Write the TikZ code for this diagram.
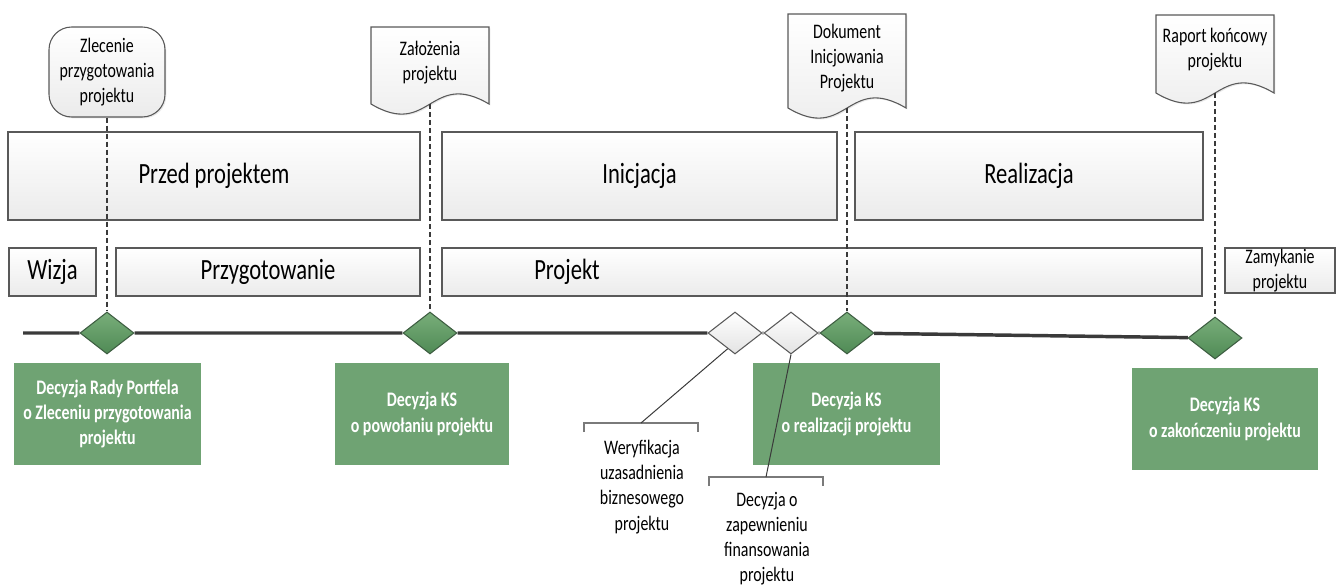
\documentclass[tikz,border=0pt]{standalone}
\usepackage{fontspec}
\setmainfont{Carlito}[FakeStretch=0.77]
\usetikzlibrary{shapes.geometric,shadows}
\definecolor{edge}{HTML}{595959}
\definecolor{boxbot}{HTML}{EBEBEB}
\definecolor{gtop}{HTML}{79AE7A}
\definecolor{gbot}{HTML}{4F8A55}
\definecolor{dedge}{HTML}{3E5E42}
\definecolor{wbot}{HTML}{E3E3E3}
\definecolor{kgreen}{HTML}{6FA373}
\definecolor{guidecol}{HTML}{3A3A3A}
\definecolor{tlcol}{HTML}{3A3A3A}

\begin{document}
\begin{tikzpicture}[x=0.75pt,y=-0.75pt,
  faint/.style={drop shadow={shadow xshift=1pt,shadow yshift=-1pt,opacity=0.18}},
  phase/.style={draw=edge,line width=0.8pt,top color=white,bottom color=boxbot,faint},
  docbox/.style={draw=edge,line width=0.8pt,top color=white,bottom color=boxbot,faint},
  term/.style={draw=edge,line width=0.8pt,top color=white,bottom color=boxbot,rounded corners=17pt,
    minimum width=87pt,minimum height=67.5pt,inner sep=0pt,smalltxt,faint},
  bigtxt/.style={font=\fontsize{22}{26}\selectfont},
  smalltxt/.style={font=\fontsize{15.5}{18.8}\selectfont,align=center},
  dectxt/.style={text=white,font=\bfseries\fontsize{15.5}{19}\selectfont,align=center},
  milestone/.style={diamond,draw=dedge,line width=0.8pt,minimum width=40.5pt,minimum height=31.5pt,
    inner sep=0pt,top color=gtop,bottom color=gbot},
  checkpoint/.style={diamond,draw=edge,line width=0.8pt,minimum width=40.5pt,minimum height=31.5pt,
    inner sep=0pt,top color=white,bottom color=wbot},
  guide/.style={draw=guidecol,line width=1.9pt,dash pattern=on 3.8pt off 2.2pt},
  tline/.style={draw=tlcol,line width=2.6pt},
  bracket/.style={draw=edge!80,line width=0.8pt},
  link/.style={draw=guidecol,line width=0.75pt}]
\useasboundingbox (0,0) rectangle (1336,585);

\draw[phase] (8,132) rectangle node[bigtxt] (przed) {Przed projektem} (420,220);
\draw[phase] (442,132) rectangle node[bigtxt] (inic) {Inicjacja} (837,220);
\draw[phase] (855,132) rectangle node[bigtxt] (real) {Realizacja} (1203,220);

\draw[phase] (9,248) rectangle node[bigtxt] (wizja) {Wizja} (96,296);
\draw[phase] (116,248) rectangle node[bigtxt] (przyg) {Przygotowanie} (420,296);
\draw[phase] (442,248) rectangle (1202,296);
\node[bigtxt] (proj) at (567,272) {Projekt};
\draw[phase] (1225,248) rectangle node[smalltxt] (zamyk) {Zamykanie\\projektu} (1335,293);

\node[term] (zlec) at (107,72) {Zlecenie\\przygotowania\\projektu};

\draw[docbox] (371,27) -- (489,27) -- (489,104) .. controls (430,69) and (430,139) .. (371,104) -- cycle;
\node[smalltxt] (zal) at (430,63) {Założenia\\projektu};
\coordinate (zalb) at (430,104);

\draw[docbox] (788,14) -- (906,14) -- (906,108) .. controls (847,73) and (847,143) .. (788,108) -- cycle;
\node[smalltxt] (dok) at (847,58) {Dokument\\Inicjowania\\Projektu};
\coordinate (dokb) at (847,108);

\draw[docbox] (1156,15) -- (1274,15) -- (1274,93) .. controls (1215,58) and (1215,128) .. (1156,93) -- cycle;
\node[smalltxt] (rap) at (1215,50) {Raport końcowy\\projektu};
\coordinate (rapb) at (1215,93);

\node[milestone] (d1) at (107,333) {};
\node[milestone] (d2) at (430,333) {};
\node[checkpoint] (w1) at (735,333) {};
\node[checkpoint] (w2) at (791,333) {};
\node[milestone] (d3) at (847,333) {};
\node[milestone] (d4) at (1215,338) {};

\coordinate (tl) at (23,333);
\draw[tline] (tl) -- (d1) -- (d2) -- (w1) -- (w2) -- (d3) -- (d4);

\draw[guide] (zlec) -- (d1);
\draw[guide] (zalb) -- (d2);
\draw[guide] (dokb) -- (d3);
\draw[guide] (rapb) -- (d4);

\fill[kgreen] (14,363) rectangle node[dectxt] (dec1) {Decyzja Rady Portfela\\o Zleceniu przygotowania\\projektu} (201,465);
\fill[kgreen] (335,363) rectangle node[dectxt] (dec2) {Decyzja KS\\o powołaniu projektu} (509,465);
\fill[kgreen] (753,363) rectangle node[dectxt] (dec3) {Decyzja KS\\o realizacji projektu} (940,465);
\fill[kgreen] (1132,368) rectangle node[dectxt] (dec4) {Decyzja KS\\o zakończeniu projektu} (1318,470);

\draw[bracket] (584,432) -- (584,423) -- (698,423) -- (698,432);
\coordinate (werb) at (641,423);
\node[smalltxt] (wer) at (642,487) {Weryfikacja\\uzasadnienia\\biznesowego\\projektu};
\draw[link] (werb) -- (w1.245);

\draw[bracket] (709,486) -- (709,477) -- (823,477) -- (823,486);
\coordinate (finb) at (766,477);
\node[smalltxt] (fin) at (767,539) {Decyzja o\\zapewnieniu\\finansowania\\projektu};
\draw[link] (finb) -- (w2.south);
\end{tikzpicture}
\end{document}
